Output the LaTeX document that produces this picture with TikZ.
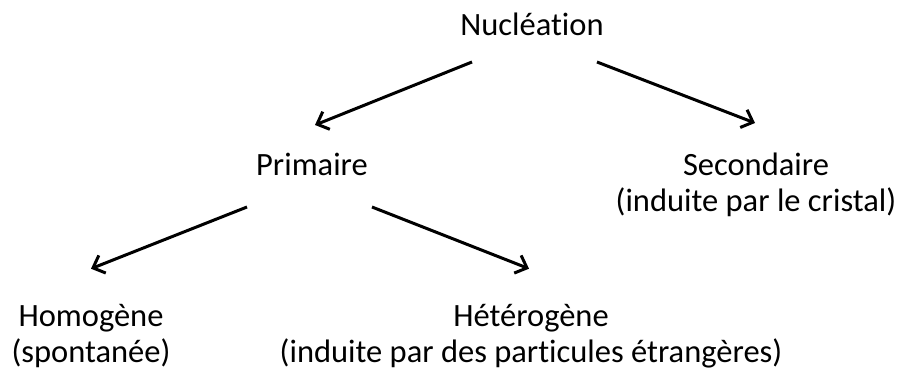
\documentclass[tikz,border=0pt]{standalone}
\usepackage{fontspec}
\setmainfont{Carlito}[Ligatures=CommonOff]
\usetikzlibrary{arrows.meta}
\begin{document}
\begin{tikzpicture}[x=1pt,y=-1pt,
    term/.style={inner sep=0pt,anchor=base,align=center,font=\fontsize{32.5}{36}\selectfont},
    arr/.style={line width=3pt,-{Straight Barb[length=10pt,width=19pt]}}]
    \useasboundingbox (0,0) rectangle (900,372);
    \node[term] at (532,35) (nuc) {Nucléation};
    \node[term] at (312,175) (prim) {Primaire};
    \node[term] at (756,211) (sec) {Secondaire\\(induite par le cristal)};
    \node[term] at (91,362.7) (homo) {Homogène\\(spontanée)};
    \node[term] at (531,362.7) (hetero) {Hétérogène\\(induite par des particules étrangères)};
    \draw[arr] ([shift={(-60,27)}]nuc.base) -- ([shift={(3,-50)}]prim.base);
    \draw[arr] ([shift={(65,27)}]nuc.base) -- ([shift={(-1,-88)}]sec.base);
    \draw[arr] ([shift={(-65,32)}]prim.base) -- ([shift={(0,-94)}]homo.base);
    \draw[arr] ([shift={(60,32)}]prim.base) -- ([shift={(-2,-94)}]hetero.base);
\end{tikzpicture}
\end{document}
